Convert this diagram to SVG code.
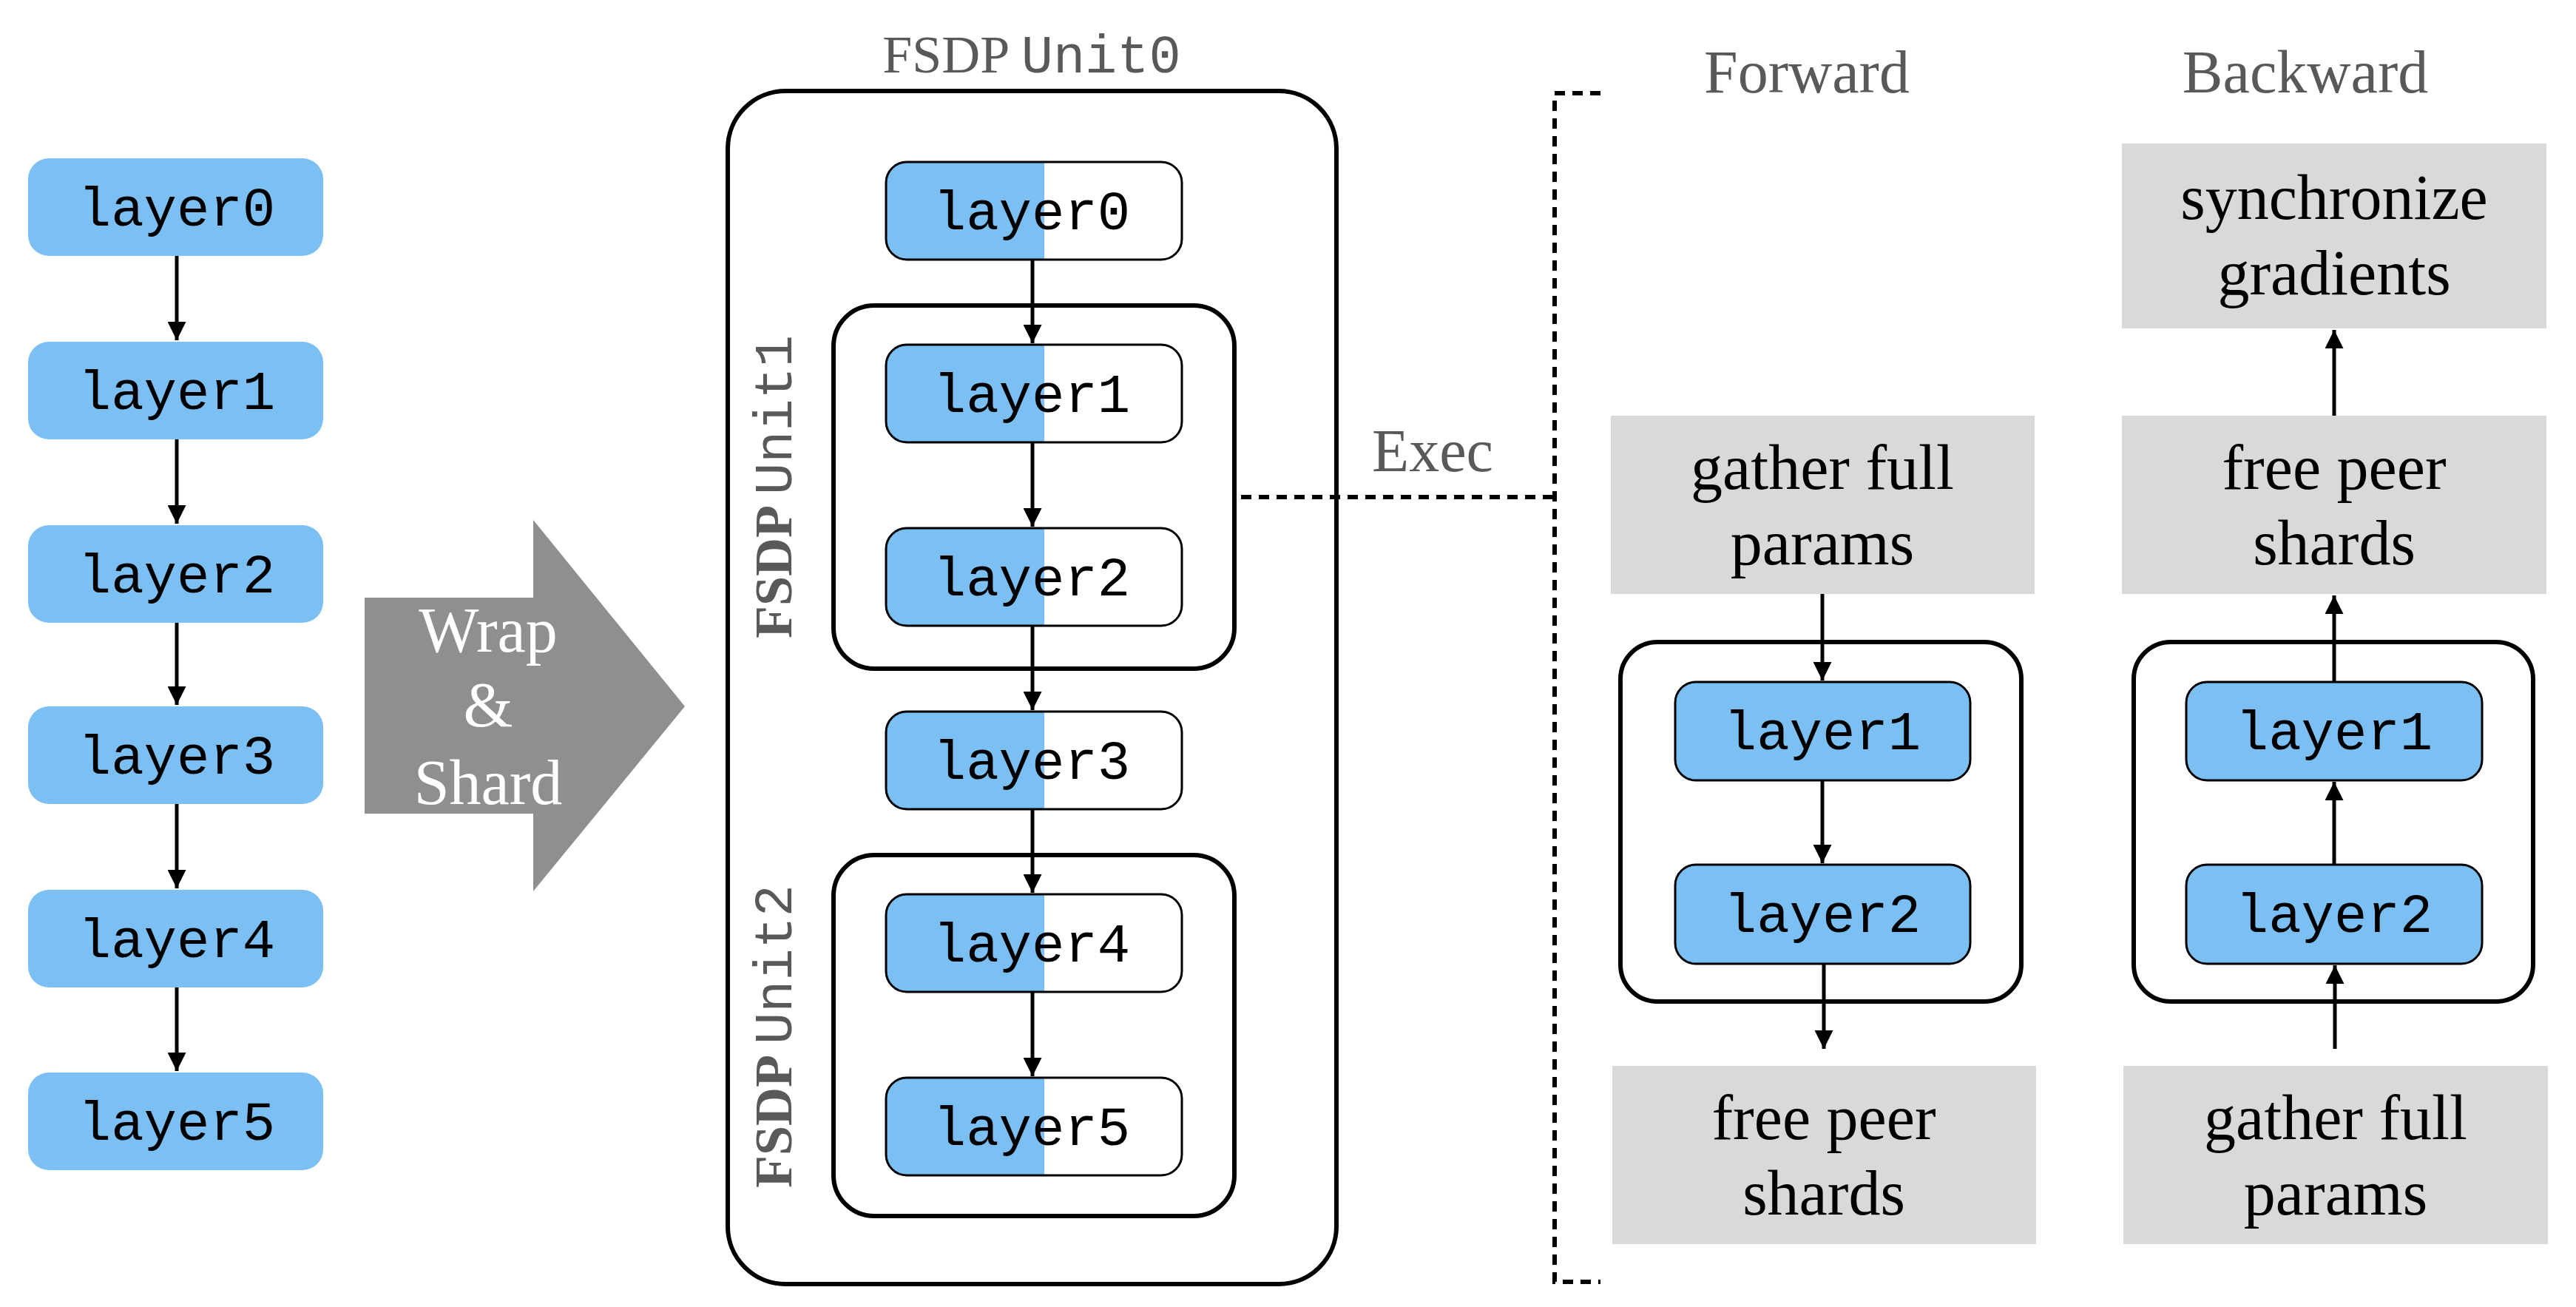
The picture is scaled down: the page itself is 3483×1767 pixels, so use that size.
<svg xmlns="http://www.w3.org/2000/svg" width="3483" height="1767" viewBox="0 0 3483 1767">
<defs>
<marker id="ah" viewBox="0 0 10 10" refX="10" refY="5" markerWidth="5" markerHeight="5" orient="auto" markerUnits="strokeWidth"><path d="M0,0 L10,5 L0,10 z" fill="#000"/></marker>
<style>
.blue{fill:#7bbff3}
.mono{font-family:"Liberation Mono",monospace;font-size:74px;fill:#000;text-anchor:middle}
.ser{font-family:"Liberation Serif",serif;font-size:86px;fill:#000;text-anchor:middle}
.gray{fill:#595959}
.gbox{fill:#d9d9d9}
.frame{fill:none;stroke:#000;stroke-width:6}
.ln{stroke:#000;stroke-width:5;fill:none;marker-end:url(#ah)}
.dash{stroke:#000;stroke-width:6;fill:none;stroke-dasharray:14 10}
</style>
</defs>
<g id="left">
<g id="l0"><rect class="blue" x="38" y="214" width="399" height="132" rx="28"/><text class="mono" x="239" y="305">layer0</text></g>
<g id="l1"><rect class="blue" x="38" y="462" width="399" height="132" rx="28"/><text class="mono" x="239" y="553">layer1</text></g>
<g id="l2"><rect class="blue" x="38" y="710" width="399" height="132" rx="28"/><text class="mono" x="239" y="801">layer2</text></g>
<g id="l3"><rect class="blue" x="38" y="955" width="399" height="132" rx="28"/><text class="mono" x="239" y="1046">layer3</text></g>
<g id="l4"><rect class="blue" x="38" y="1203" width="399" height="132" rx="28"/><text class="mono" x="239" y="1294">layer4</text></g>
<g id="l5"><rect class="blue" x="38" y="1450" width="399" height="132" rx="28"/><text class="mono" x="239" y="1541">layer5</text></g>
</g>
<g id="bigarrow">
<path d="M493,808 L721,808 L721,703 L926,955 L721,1205 L721,1100 L493,1100 z" fill="#8f8f8f"/>
<text class="ser" x="660" y="881" fill="#fff" style="fill:#fff">Wrap</text>
<text class="ser" x="660" y="982" style="fill:#fff">&amp;</text>
<text class="ser" x="660" y="1087" style="fill:#fff">Shard</text>
</g>
<g id="unit0">
<text x="1395" y="98" text-anchor="middle" font-size="72" class="gray"><tspan font-family="Liberation Serif, serif">FSDP </tspan><tspan font-family="Liberation Mono, monospace">Unit0</tspan></text>
<rect class="frame" x="984" y="123" width="823" height="1613" rx="78"/>
</g>
<g id="unit1">
<rect class="frame" x="1127" y="413" width="542" height="491" rx="55"/>
<text transform="translate(1070,658) rotate(-90)" text-anchor="middle" font-size="72" class="gray"><tspan font-family="Liberation Serif, serif" font-weight="bold">FSDP </tspan><tspan font-family="Liberation Mono, monospace">Unit1</tspan></text>
</g>
<g id="unit2">
<rect class="frame" x="1127" y="1156" width="542" height="488" rx="55"/>
<text transform="translate(1070,1401) rotate(-90)" text-anchor="middle" font-size="72" class="gray"><tspan font-family="Liberation Serif, serif" font-weight="bold">FSDP </tspan><tspan font-family="Liberation Mono, monospace">Unit2</tspan></text>
</g>
<g id="inner">
<g id="m0"><path class="blue" d="M1226,219 H1412 V351 H1226 A28,28 0 0 1 1198,323 V247 A28,28 0 0 1 1226,219 z"/><rect x="1198" y="219" width="400" height="132" rx="28" fill="none" stroke="#000" stroke-width="3"/><text class="mono" x="1395" y="310">layer0</text></g>
<g id="m1"><path class="blue" d="M1226,466 H1412 V598 H1226 A28,28 0 0 1 1198,570 V494 A28,28 0 0 1 1226,466 z"/><rect x="1198" y="466" width="400" height="132" rx="28" fill="none" stroke="#000" stroke-width="3"/><text class="mono" x="1395" y="557">layer1</text></g>
<g id="m2"><path class="blue" d="M1226,714 H1412 V846 H1226 A28,28 0 0 1 1198,818 V742 A28,28 0 0 1 1226,714 z"/><rect x="1198" y="714" width="400" height="132" rx="28" fill="none" stroke="#000" stroke-width="3"/><text class="mono" x="1395" y="805">layer2</text></g>
<g id="m3"><path class="blue" d="M1226,962 H1412 V1094 H1226 A28,28 0 0 1 1198,1066 V990 A28,28 0 0 1 1226,962 z"/><rect x="1198" y="962" width="400" height="132" rx="28" fill="none" stroke="#000" stroke-width="3"/><text class="mono" x="1395" y="1053">layer3</text></g>
<g id="m4"><path class="blue" d="M1226,1209 H1412 V1341 H1226 A28,28 0 0 1 1198,1313 V1237 A28,28 0 0 1 1226,1209 z"/><rect x="1198" y="1209" width="400" height="132" rx="28" fill="none" stroke="#000" stroke-width="3"/><text class="mono" x="1395" y="1300">layer4</text></g>
<g id="m5"><path class="blue" d="M1226,1457 H1412 V1589 H1226 A28,28 0 0 1 1198,1561 V1485 A28,28 0 0 1 1226,1457 z"/><rect x="1198" y="1457" width="400" height="132" rx="28" fill="none" stroke="#000" stroke-width="3"/><text class="mono" x="1395" y="1548">layer5</text></g>
</g>
<g id="titles">
<text class="ser gray" x="2443" y="125" style="font-size:82px">Forward</text>
<text class="ser gray" x="3117" y="125" style="font-size:82px">Backward</text>
<text class="ser gray" x="1937" y="637" style="font-size:82px">Exec</text>
</g>
<g id="fwd">
<g id="fg"><rect class="gbox" x="2178" y="562" width="573" height="241"/><text class="ser" x="2464" y="661">gather full</text><text class="ser" x="2464" y="763">params</text></g>
<rect class="frame" x="2191" y="868" width="542" height="486" rx="50"/>
<g id="f1"><rect class="blue" x="2265" y="922" width="399" height="133" rx="28" stroke="#000" stroke-width="3"/><text class="mono" x="2464" y="1013">layer1</text></g>
<g id="f2"><rect class="blue" x="2265" y="1169" width="399" height="134" rx="28" stroke="#000" stroke-width="3"/><text class="mono" x="2464" y="1260">layer2</text></g>
<g id="ff"><rect class="gbox" x="2180" y="1441" width="573" height="241"/><text class="ser" x="2466" y="1540">free peer</text><text class="ser" x="2466" y="1642">shards</text></g>
</g>
<g id="bwd">
<g id="bs"><rect class="gbox" x="2869" y="194" width="574" height="250"/><text class="ser" x="3156" y="296">synchronize</text><text class="ser" x="3156" y="398">gradients</text></g>
<g id="bf"><rect class="gbox" x="2869" y="562" width="574" height="241"/><text class="ser" x="3156" y="661">free peer</text><text class="ser" x="3156" y="763">shards</text></g>
<rect class="frame" x="2885" y="868" width="540" height="486" rx="50"/>
<g id="b1"><rect class="blue" x="2956" y="922" width="400" height="133" rx="28" stroke="#000" stroke-width="3"/><text class="mono" x="3156" y="1013">layer1</text></g>
<g id="b2"><rect class="blue" x="2956" y="1169" width="400" height="134" rx="28" stroke="#000" stroke-width="3"/><text class="mono" x="3156" y="1260">layer2</text></g>
<g id="bg"><rect class="gbox" x="2871" y="1441" width="574" height="241"/><text class="ser" x="3158" y="1540">gather full</text><text class="ser" x="3158" y="1642">params</text></g>
</g>
<g id="connectors">
<line class="ln" x1="239" y1="346" x2="239" y2="460"/>
<line class="ln" x1="239" y1="594" x2="239" y2="708"/>
<line class="ln" x1="239" y1="842" x2="239" y2="953"/>
<line class="ln" x1="239" y1="1087" x2="239" y2="1201"/>
<line class="ln" x1="239" y1="1335" x2="239" y2="1448"/>
<line class="ln" x1="1396" y1="351" x2="1396" y2="464"/>
<line class="ln" x1="1396" y1="598" x2="1396" y2="712"/>
<line class="ln" x1="1396" y1="846" x2="1396" y2="960"/>
<line class="ln" x1="1396" y1="1094" x2="1396" y2="1207"/>
<line class="ln" x1="1396" y1="1341" x2="1396" y2="1455"/>
<line class="ln" x1="2464" y1="803" x2="2464" y2="920"/>
<line class="ln" x1="2464" y1="1055" x2="2464" y2="1167"/>
<line class="ln" x1="2466" y1="1303" x2="2466" y2="1418"/>
<line class="ln" x1="3157" y1="1418" x2="3157" y2="1305"/>
<line class="ln" x1="3156" y1="1169" x2="3156" y2="1057"/>
<line class="ln" x1="3156" y1="922" x2="3156" y2="805"/>
<line class="ln" x1="3156" y1="562" x2="3156" y2="446"/>
<path class="dash" d="M1678,672 H2102"/>
<path class="dash" d="M2164,126 H2102 V1733 H2164"/>
</g>
</svg>
